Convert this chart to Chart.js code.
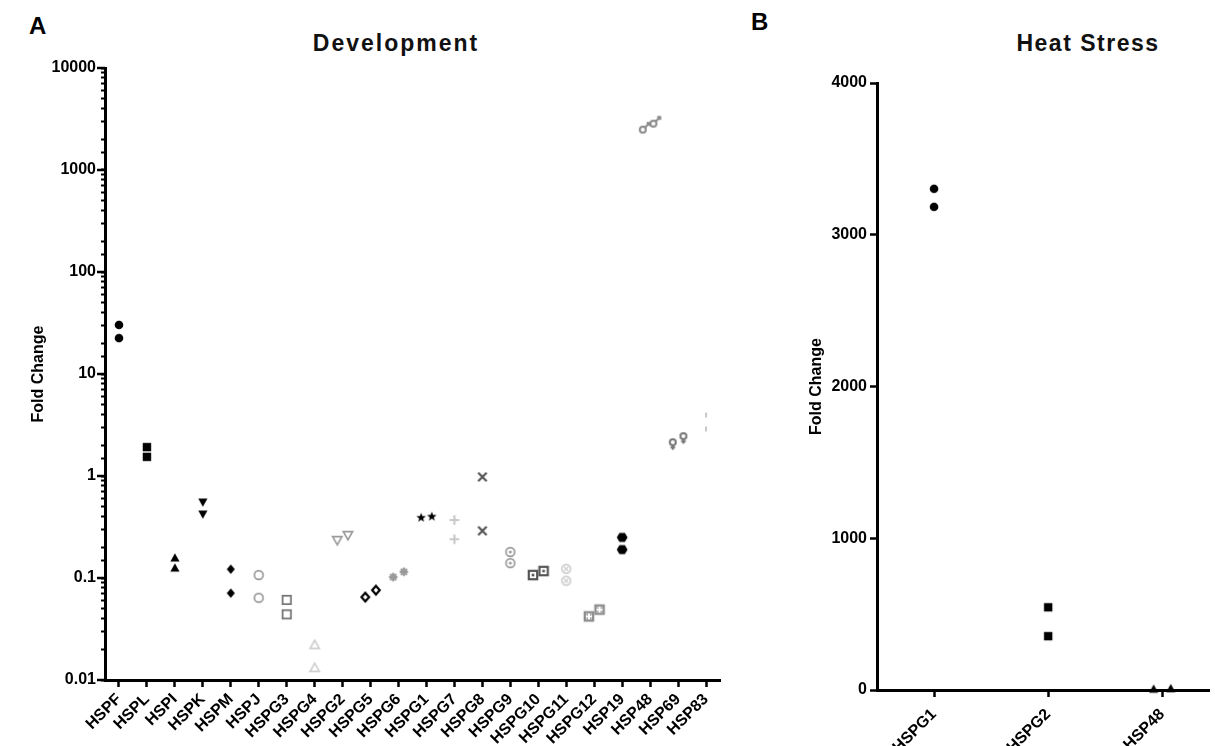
<!DOCTYPE html>
<html>
<head>
<meta charset="utf-8">
<script src="https://cdn.jsdelivr.net/npm/chart.js@4.4.1/dist/chart.umd.min.js"></script>
<style>
  html, body { margin: 0; padding: 0; background: #fff; }
  body { width: 1215px; height: 746px; position: relative; overflow: hidden; font-family: Arial, 'Liberation Sans', Helvetica, sans-serif; }
  .panel { position: absolute; top: 0; }
  .letter { position: absolute; font-weight: bold; font-size: 24px; line-height: 24px; color: #000; }
  .title { position: absolute; font-weight: bold; font-size: 23px; line-height: 23px; color: #111; transform: translateX(-50%); white-space: nowrap; }
</style>
</head>
<body>
<div class="letter" style="left:29px; top:14px;">A</div>
<div class="letter" style="left:751px; top:10px;">B</div>
<div class="title" style="left:396px; top:32px; letter-spacing:2px;">Development</div>
<div class="title" style="left:1088px; top:32px; letter-spacing:1.5px;">Heat Stress</div>

<div class="panel" style="left:0; width:745px; height:746px;"><canvas id="devChart" width="745" height="746"></canvas></div>
<div class="panel" style="left:745px; width:470px; height:746px;"><canvas id="heatChart" width="470" height="746"></canvas></div>

<script>
// Panel A - development, two replicates per gene (fold change, log axis)
const devCategories = ['HSPF', 'HSPL', 'HSPI', 'HSPK', 'HSPM', 'HSPJ', 'HSPG3', 'HSPG4', 'HSPG2', 'HSPG5', 'HSPG6',
    'HSPG1', 'HSPG7', 'HSPG8', 'HSPG9', 'HSPG10', 'HSPG11', 'HSPG12', 'HSP19', 'HSP48', 'HSP69', 'HSP83'];
const devRep1 = [30.3, 1.92, 0.157, 0.556, 0.122, 0.107, 0.061, 0.022, 0.264, 0.076, 0.115,
    0.40, 0.37, 0.98, 0.18, 0.117, 0.123, 0.049, 0.25, 2980, 2.35, 3.96];
const devRep2 = [22.5, 1.54, 0.125, 0.424, 0.071, 0.064, 0.044, 0.0131, 0.236, 0.065, 0.102,
    0.39, 0.24, 0.29, 0.14, 0.107, 0.094, 0.042, 0.19, 2600, 2.05, 2.89];
const devTicks = [0.01, 0.1, 1, 10, 100, 1000, 10000];

// Panel B - heat stress (linear axis)
const heatCategories = ['HSPG1', 'HSPG2', 'HSP48'];
const heatRep1 = [3303, 545, 9];
const heatRep2 = [3184, 355, 5];
const heatTicks = [0, 1000, 2000, 3000, 4000];

// Marker look for each gene in panel A: [shape, colour]
const devMarkerStyles = [
    ['dot', '#000'], ['square', '#000'], ['tri', '#000'], ['triDown', '#000'], ['diamond', '#000'],
    ['ring', '#9a9a9a'], ['box', '#707070'], ['triOpen', '#cfcfcf'], ['triDownOpen', '#9a9a9a'],
    ['diamondOpen', '#000'], ['burst', '#9a9a9a'], ['star', '#000'], ['plus', '#c8c8c8'],
    ['cross', '#555'], ['ringDot', '#9a9a9a'], ['boxDot', '#555'], ['ringX', '#cfcfcf'],
    ['boxDice', '#8a8a8a'], ['hexagon', '#000'], ['male', '#8a8a8a'], ['female', '#777'], ['tick', '#c8c8c8']
];
const heatMarkerStyles = [['dot', '#000'], ['square', '#000'], ['tri', '#000']];

Chart.defaults.font.family = "Arial, 'Liberation Sans', Helvetica, sans-serif";
Chart.defaults.color = '#000';

// Marker drawing
function makeMarker(shape, color) {
    const size = 18;
    const c = document.createElement('canvas');
    c.width = size;
    c.height = size;
    const g = c.getContext('2d');
    g.translate(size / 2, size / 2);
    g.fillStyle = color;
    g.strokeStyle = color;
    g.lineWidth = 1.7;
    g.lineJoin = 'miter';

    const poly = (pts) => {
        g.beginPath();
        pts.forEach(([x, y], i) => (i ? g.lineTo(x, y) : g.moveTo(x, y)));
        g.closePath();
    };
    const circle = (x, y, r) => { g.beginPath(); g.arc(x, y, r, 0, Math.PI * 2); };
    const up = [[0, -4.8], [4.6, 3.4], [-4.6, 3.4]];
    const down = [[0, 4.8], [4.6, -3.4], [-4.6, -3.4]];
    const dia = [[0, -4.8], [4, 0], [0, 4.8], [-4, 0]];

    switch (shape) {
        case 'dot': circle(0, 0, 4.3); g.fill(); break;
        case 'square': g.fillRect(-4.2, -4.2, 8.4, 8.4); break;
        case 'tri': poly(up); g.fill(); break;
        case 'triDown': poly(down); g.fill(); break;
        case 'diamond': poly(dia); g.fill(); break;
        case 'ring': circle(0, 0, 4.4); g.stroke(); break;
        case 'box': g.strokeRect(-4.2, -4.2, 8.4, 8.4); break;
        case 'triOpen': poly(up); g.stroke(); break;
        case 'triDownOpen': poly(down); g.stroke(); break;
        case 'diamondOpen': g.lineWidth = 2.2; poly([[0, -4.3], [3.8, 0], [0, 4.3], [-3.8, 0]]); g.stroke(); break;
        case 'burst':
            g.lineWidth = 2.2;
            for (let k = 0; k < 4; k++) {
                const a = k * Math.PI / 4;
                g.beginPath();
                g.moveTo(-4.3 * Math.cos(a), -4.3 * Math.sin(a));
                g.lineTo(4.3 * Math.cos(a), 4.3 * Math.sin(a));
                g.stroke();
            }
            break;
        case 'star': {
            const pts = [];
            for (let k = 0; k < 10; k++) {
                const r = k % 2 ? 2.1 : 5;
                const a = -Math.PI / 2 + k * Math.PI / 5;
                pts.push([r * Math.cos(a), r * Math.sin(a)]);
            }
            poly(pts); g.fill();
            break;
        }
        case 'plus':
            g.lineWidth = 2.2;
            g.beginPath(); g.moveTo(-4.8, 0); g.lineTo(4.8, 0); g.moveTo(0, -4.8); g.lineTo(0, 4.8); g.stroke();
            break;
        case 'cross':
            g.lineWidth = 2.2;
            g.beginPath(); g.moveTo(-4.2, -4.2); g.lineTo(4.2, 4.2); g.moveTo(4.2, -4.2); g.lineTo(-4.2, 4.2); g.stroke();
            break;
        case 'ringDot': circle(0, 0, 4.4); g.stroke(); circle(0, 0, 1.5); g.fill(); break;
        case 'boxDot': g.lineWidth = 2.2; g.strokeRect(-4.2, -4.2, 8.4, 8.4); g.fillRect(-1.3, -1.3, 2.6, 2.6); break;
        case 'ringX':
            circle(0, 0, 4.4); g.stroke();
            g.lineWidth = 1.3;
            g.beginPath(); g.moveTo(-2.3, -2.3); g.lineTo(2.3, 2.3); g.moveTo(2.3, -2.3); g.lineTo(-2.3, 2.3); g.stroke();
            break;
        case 'boxDice':
            g.lineWidth = 2.2; g.strokeRect(-4.2, -4.2, 8.4, 8.4);
            [[-1.8, -1.8], [1.8, -1.8], [-1.8, 1.8], [1.8, 1.8]].forEach(([x, y]) => g.fillRect(x - 0.8, y - 0.8, 1.6, 1.6));
            break;
        case 'hexagon': poly([[-5.4, 0], [-2.7, -4.4], [2.7, -4.4], [5.4, 0], [2.7, 4.4], [-2.7, 4.4]]); g.fill(); break;
        case 'male':
            g.lineWidth = 2;
            circle(-2, 2, 3); g.stroke();
            g.beginPath(); g.moveTo(0.2, -0.2); g.lineTo(4.8, -4.8); g.moveTo(1.8, -4.8); g.lineTo(4.8, -4.8); g.lineTo(4.8, -1.8); g.stroke();
            break;
        case 'female':
            g.lineWidth = 2;
            circle(0, -2, 3); g.stroke();
            g.beginPath(); g.moveTo(0, 1); g.lineTo(0, 5.5); g.moveTo(-2.3, 3.3); g.lineTo(2.3, 3.3); g.stroke();
            break;
        case 'tick': g.fillRect(-1, -2.5, 2, 5); break;
    }
    return c;
}

// Two replicates side by side when they would overlap (Prism-style column scatter)
function spreadPair(index, a, b, isClose, offset) {
    if (!isClose(a, b)) return [{ x: index, y: a }, { x: index, y: b }];
    const s = a <= b ? -1 : 1;
    return [{ x: index + s * offset, y: a }, { x: index - s * offset, y: b }];
}

function isDecade(v) {
    const l = Math.log10(v);
    return Math.abs(l - Math.round(l)) < 1e-6;
}

// Longer marks for the decades on the log axis
const decadeTicks = {
    id: 'decadeTicks',
    afterDraw(chart) {
        const s = chart.scales.y;
        const ctx = chart.ctx;
        ctx.save();
        ctx.strokeStyle = '#000';
        ctx.lineWidth = 2.5;
        s.ticks.forEach(t => {
            if (!isDecade(t.value)) return;
            const y = s.getPixelForValue(t.value);
            ctx.beginPath();
            ctx.moveTo(s.right - 8, y);
            ctx.lineTo(s.right, y);
            ctx.stroke();
        });
        ctx.restore();
    }
};

const tickFont = { size: 16, weight: 'bold' };
const titleFont = { size: 16, weight: 'bold' };

function setupDevChart() {
    const datasets = devCategories.map((name, i) => ({
        label: name,
        data: spreadPair(i, devRep1[i], devRep2[i],
            (a, b) => Math.abs(Math.log10(a) - Math.log10(b)) < 0.085, 0.19),
        pointStyle: makeMarker(...devMarkerStyles[i]),
        pointRadius: 5,
        pointHoverRadius: 5,
        clip: false
    }));

    new Chart(document.getElementById('devChart'), {
        type: 'scatter',
        data: { datasets },
        options: {
            responsive: false,
            animation: false,
            layout: { padding: { left: 0, top: 68, right: 25, bottom: 0 } },
            plugins: { legend: { display: false }, tooltip: { enabled: false } },
            scales: {
                x: {
                    type: 'linear',
                    min: -0.5,
                    max: devCategories.length - 0.5,
                    afterBuildTicks: s => { s.ticks = devCategories.map((_, i) => ({ value: i })); },
                    afterFit: s => { s.height = 66; },
                    ticks: {
                        autoSkip: false,
                        minRotation: 45,
                        maxRotation: 45,
                        padding: 3,
                        font: tickFont,
                        callback: v => devCategories[v]
                    },
                    grid: { drawOnChartArea: false, tickLength: 7, tickWidth: 2.5, tickColor: '#000' },
                    border: { width: 3, color: '#000' }
                },
                y: {
                    type: 'logarithmic',
                    min: devTicks[0],
                    max: devTicks[devTicks.length - 1],
                    afterFit: s => { s.width = 105; },
                    ticks: {
                        autoSkip: false,
                        padding: 5,
                        font: tickFont,
                        callback: v => (isDecade(v) ? String(Number(v.toPrecision(6))) : '')
                    },
                    grid: { drawOnChartArea: false, tickLength: 4, tickWidth: 2, tickColor: '#000' },
                    border: { width: 3, color: '#000' },
                    title: { display: true, text: 'Fold Change', font: titleFont, padding: { top: 29, bottom: 0 } }
                }
            }
        },
        plugins: [decadeTicks]
    });
}

function setupHeatChart() {
    const datasets = heatCategories.map((name, i) => ({
        label: name,
        data: spreadPair(i, heatRep1[i], heatRep2[i], (a, b) => Math.abs(a - b) < 60, 0.075),
        pointStyle: makeMarker(...heatMarkerStyles[i]),
        pointRadius: 5,
        pointHoverRadius: 5,
        clip: false
    }));

    new Chart(document.getElementById('heatChart'), {
        type: 'scatter',
        data: { datasets },
        options: {
            responsive: false,
            animation: false,
            layout: { padding: { left: 0, top: 83, right: 0, bottom: 0 } },
            plugins: { legend: { display: false }, tooltip: { enabled: false } },
            scales: {
                x: {
                    type: 'linear',
                    min: -0.5,
                    max: 2.41,
                    afterBuildTicks: s => { s.ticks = heatCategories.map((_, i) => ({ value: i })); },
                    afterFit: s => { s.height = 56; },
                    ticks: {
                        autoSkip: false,
                        minRotation: 45,
                        maxRotation: 45,
                        padding: 8,
                        font: tickFont,
                        callback: v => heatCategories[v]
                    },
                    grid: { drawOnChartArea: false, tickLength: 7, tickWidth: 2.5, tickColor: '#000' },
                    border: { width: 3, color: '#000' }
                },
                y: {
                    min: heatTicks[0],
                    max: heatTicks[heatTicks.length - 1],
                    afterBuildTicks: s => { s.ticks = heatTicks.map(v => ({ value: v })); },
                    afterFit: s => { s.width = 132; },
                    ticks: { padding: 3, font: tickFont, callback: v => String(v) },
                    grid: { drawOnChartArea: false, tickLength: 7, tickWidth: 2.5, tickColor: '#000' },
                    border: { width: 3, color: '#000' },
                    title: { display: true, text: 'Fold Change', font: titleFont, padding: { top: 62, bottom: 0 } }
                }
            }
        }
    });
}

setupDevChart();
setupHeatChart();
</script>
</body>
</html>
